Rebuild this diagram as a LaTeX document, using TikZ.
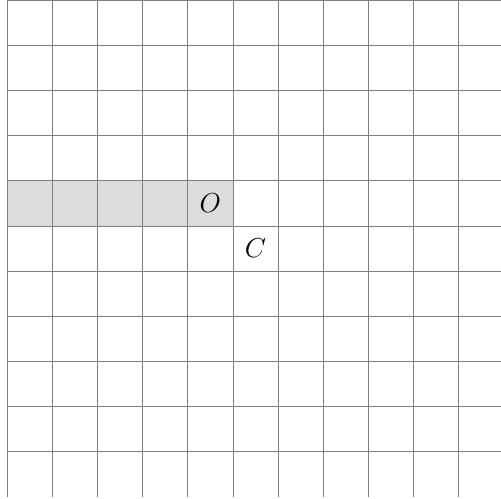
\documentclass[tikz,border=0pt]{standalone}
\usepackage{amsmath,amssymb}
\usepackage{xcolor,tikz}
\definecolor{gridline}{HTML}{808080}
\definecolor{cellgray}{HTML}{DCDCDC}

\begin{document}
\begin{tikzpicture}[cell/.style={font=\LARGE,inner sep=0pt}]
\useasboundingbox (-.155,-.02) rectangle (10.93,11);
\clip (-.155,-.02) rectangle (10.93,11);
\fill[cellgray](0,6)rectangle(5,7);
\foreach \x in {0,...,10} \draw[gridline,line width=.6pt](\x,0)--(\x,11);
\foreach \y in {1,...,11} \draw[gridline,line width=.6pt](0,\y)--(11,\y);
\node[cell] (O) at (4.5,6.5) {$O$};
\node[cell] (C) at (5.5,5.5) {$C$};
\end{tikzpicture}
\end{document}
